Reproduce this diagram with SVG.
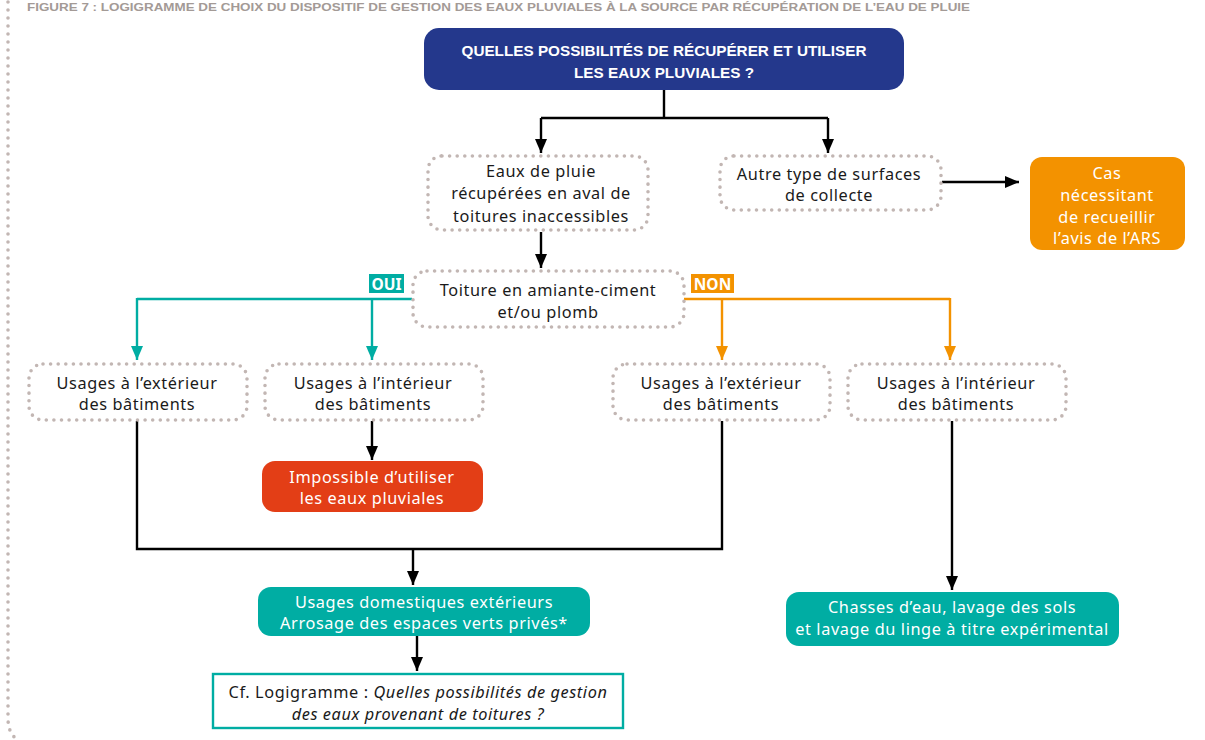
<svg xmlns="http://www.w3.org/2000/svg" width="1205" height="740" viewBox="0 0 1205 740">
<defs>
<style>
.t{font-family:"Noto Sans","Open Sans","DejaVu Sans",sans-serif;font-size:16.3px;letter-spacing:0.6px;text-anchor:middle;fill:#1a1a1a}
.w{fill:#ffffff}
.dot{fill:#ffffff;stroke:#c2b6b3;stroke-width:3.6;stroke-linecap:round;stroke-dasharray:0 7.6}
.k{fill:none;stroke:#000;stroke-width:2.4}
.tl{fill:none;stroke:#00ada3;stroke-width:2.4}
.or{fill:none;stroke:#f39200;stroke-width:2.4}
.lab{font-family:"Noto Sans","Open Sans",sans-serif;font-size:15.5px;font-weight:bold;fill:#fff;text-anchor:middle}
</style>
<marker id="ak" markerUnits="userSpaceOnUse" markerWidth="16" markerHeight="16" refX="14" refY="6" orient="auto"><path d="M0,0 L14,6 L0,12 Z" fill="#000"/></marker>
<marker id="at" markerUnits="userSpaceOnUse" markerWidth="16" markerHeight="16" refX="14" refY="6" orient="auto"><path d="M0,0 L14,6 L0,12 Z" fill="#00ada3"/></marker>
<marker id="ao" markerUnits="userSpaceOnUse" markerWidth="16" markerHeight="16" refX="14" refY="6" orient="auto"><path d="M0,0 L14,6 L0,12 Z" fill="#f39200"/></marker>
</defs>
<rect width="1205" height="740" fill="#ffffff"/>
<text x="27" y="11" font-family="'Liberation Sans',sans-serif" font-size="11.5" font-weight="bold" fill="#a39a96" textLength="943" lengthAdjust="spacingAndGlyphs">FIGURE 7 : LOGIGRAMME DE CHOIX DU DISPOSITIF DE GESTION DES EAUX PLUVIALES À LA SOURCE PAR RÉCUPÉRATION DE L’EAU DE PLUIE</text>
<path d="M8,2 L8,718 Q8,734 18,740" fill="none" stroke="#c2b6b3" stroke-width="3.6" stroke-linecap="round" stroke-dasharray="0 8"/>

<g id="connectors">
<path class="k" d="M664,90 V118 M541,118 H828"/>
<path class="k" d="M541,118 V153" marker-end="url(#ak)"/>
<path class="k" d="M828,118 V153" marker-end="url(#ak)"/>
<path class="k" d="M541,232 V268" marker-end="url(#ak)"/>
<path class="k" d="M942,182 H1019" marker-end="url(#ak)"/>
<path class="tl" d="M412,299 H137"/>
<path class="tl" d="M137,298 V360" marker-end="url(#at)"/>
<path class="tl" d="M372,299 V360" marker-end="url(#at)"/>
<path class="or" d="M684,299 H950"/>
<path class="or" d="M722,299 V360" marker-end="url(#ao)"/>
<path class="or" d="M950,298 V360" marker-end="url(#ao)"/>
<path class="k" d="M372,421 V460" marker-end="url(#ak)"/>
<path class="k" d="M137,421 V549 H722 V421"/>
<path class="k" d="M413,549 V585" marker-end="url(#ak)"/>
<path class="k" d="M417,636 V671" marker-end="url(#ak)"/>
<path class="k" d="M952,421 V590" marker-end="url(#ak)"/>
</g>

<g id="n_top">
<rect x="424" y="28" width="480" height="62" rx="15" fill="#24388c"/>
<text x="664" y="56" font-family="'Liberation Sans',sans-serif" font-size="15" font-weight="bold" fill="#fff" text-anchor="middle" textLength="405" lengthAdjust="spacingAndGlyphs">QUELLES POSSIBILITÉS DE RÉCUPÉRER ET UTILISER</text>
<text x="664" y="78" font-family="'Liberation Sans',sans-serif" font-size="15" font-weight="bold" fill="#fff" text-anchor="middle" textLength="180" lengthAdjust="spacingAndGlyphs">LES EAUX PLUVIALES ?</text>
</g>

<g id="n_eaux">
<rect class="dot" x="428" y="156" width="220" height="74" rx="14"/>
<text class="t" x="541" y="177">Eaux de pluie</text>
<text class="t" x="541" y="199">récupérées en aval de</text>
<text class="t" x="541" y="222">toitures inaccessibles</text>
</g>

<g id="n_autre">
<rect class="dot" x="720" y="156" width="221" height="54" rx="14"/>
<text class="t" x="829" y="180">Autre type de surfaces</text>
<text class="t" x="829" y="201">de collecte</text>
</g>

<g id="n_ars">
<rect x="1030" y="157" width="155" height="93" rx="12" fill="#f39200"/>
<text class="t w" x="1107" y="179">Cas</text>
<text class="t w" x="1107" y="201">nécessitant</text>
<text class="t w" x="1107" y="223">de recueillir</text>
<text class="t w" x="1107" y="244">l’avis de l’ARS</text>
</g>

<g id="n_toiture">
<rect class="dot" x="413" y="271" width="271" height="56" rx="14"/>
<text class="t" x="548" y="296">Toiture en amiante-ciment</text>
<text class="t" x="548" y="318">et/ou plomb</text>
</g>

<g id="l_oui">
<rect x="369" y="274" width="35" height="19" fill="#00ada3"/>
<text class="lab" x="386.5" y="289.5">OUI</text>
</g>
<g id="l_non">
<rect x="691" y="274" width="43" height="19" fill="#f39200"/>
<text class="lab" x="712.5" y="289.5">NON</text>
</g>

<g id="n_ext1">
<rect class="dot" x="29" y="364" width="218" height="56" rx="14"/>
<text class="t" x="137" y="389">Usages à l’extérieur</text>
<text class="t" x="137" y="410">des bâtiments</text>
</g>
<g id="n_int1">
<rect class="dot" x="265" y="364" width="218" height="56" rx="14"/>
<text class="t" x="373" y="389">Usages à l’intérieur</text>
<text class="t" x="373" y="410">des bâtiments</text>
</g>
<g id="n_ext2">
<rect class="dot" x="613" y="364" width="217" height="56" rx="14"/>
<text class="t" x="721" y="389">Usages à l’extérieur</text>
<text class="t" x="721" y="410">des bâtiments</text>
</g>
<g id="n_int2">
<rect class="dot" x="848" y="364" width="218" height="56" rx="14"/>
<text class="t" x="956" y="389">Usages à l’intérieur</text>
<text class="t" x="956" y="410">des bâtiments</text>
</g>

<g id="n_impossible">
<rect x="262" y="461" width="221" height="51" rx="13" fill="#e33e16"/>
<text class="t w" x="372" y="483">Impossible d’utiliser</text>
<text class="t w" x="372" y="504">les eaux pluviales</text>
</g>

<g id="n_dom">
<rect x="258" y="587" width="332" height="49" rx="13" fill="#00ada3"/>
<text class="t w" x="424" y="608">Usages domestiques extérieurs</text>
<text class="t w" x="424" y="629">Arrosage des espaces verts privés*</text>
</g>

<g id="n_chasses">
<rect x="786" y="592" width="333" height="54" rx="13" fill="#00ada3"/>
<text class="t w" x="952" y="613">Chasses d’eau, lavage des sols</text>
<text class="t w" x="952" y="635">et lavage du linge à titre expérimental</text>
</g>

<g id="n_cf">
<rect x="213" y="674" width="410" height="54" fill="#fff" stroke="#00ada3" stroke-width="2.4"/>
<text class="t" x="418" y="698">Cf. Logigramme : <tspan font-style="italic">Quelles possibilités de gestion</tspan></text>
<text class="t" x="418" y="720" font-style="italic">des eaux provenant de toitures ?</text>
</g>
</svg>
